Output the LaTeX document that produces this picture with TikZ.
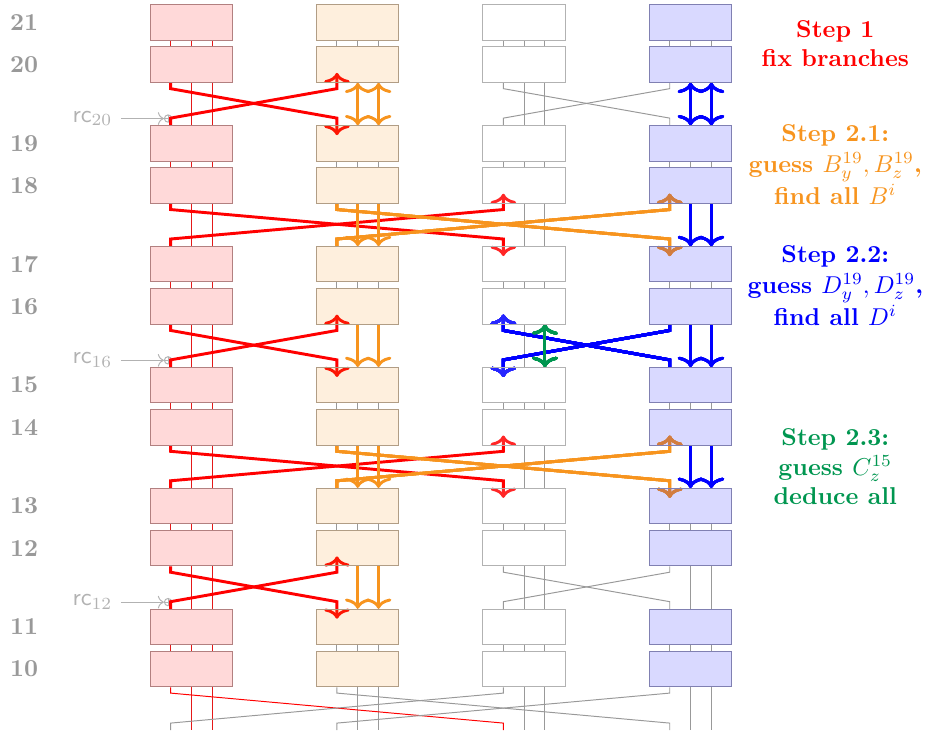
\documentclass[tikz,border=0pt]{standalone}
\usepackage{amsmath, amssymb}
\usepackage{xcolor}
\usepackage{tikz}
\usetikzlibrary{arrows.meta, positioning, calc, backgrounds}

\definecolor{stepor}{RGB}{247,148,30}
\definecolor{stepgr}{RGB}{0,150,80}

\tikzset{
  box/.style={rectangle, draw=#1!25!gray!80, fill=#1, fill opacity=0.15, minimum width=1.188cm, minimum height=0.51cm, inner sep=0pt},
  flow/.style={very thick, ->, >={Computer Modern Rightarrow[width=10.5pt,length=4.2pt]}, #1},
  xor/.style={circle, draw=gray!60, inner sep=0pt, minimum size=3pt,
    path picture={\draw[gray!60] (path picture bounding box.north) -- (path picture bounding box.south)
      (path picture bounding box.west) -- (path picture bounding box.east);}},
}

% left wire of a box, crossing over to another column
\newcommand{\crosswire}[3][gray!80]{\draw[#1] ($(#2)+(-.25,0)$) -- ++(0,-.07) -- ($(#3)+(-.25,.085)$) -- ++(0,-.085);}
\newcommand{\arrdown}[3]{\draw[flow=#1] ($(#2)+(-.25,0)$) -- ++(0,-.07) -- ($(#3)+(-.25,.085)$) -- ++(0,-.205);}
\newcommand{\arrup}[3]{\draw[flow=#1] ($(#2)+(-.25,0)$) -- ++(0,.085) -- ($(#3)+(-.25,-.07)$) -- ++(0,.19);}
\newcommand{\twowires}[4]{\foreach \dx in {0,.25} \draw[flow=#1,#2] ($(#3)+(\dx,0)$) -- ($(#4)+(\dx,0)$);}

\begin{document}
\begin{tikzpicture}[x=1.2cm, y=1.2cm]
  \useasboundingbox (0,0) rectangle (11.154,-8.822);

  % rounds 21 down to 10
  \foreach \r [count=\k from 0] in {21,20,...,10} {
    \pgfmathsetmacro\ry{-(0.27+1.453*floor(\k/2)+0.507*mod(\k,2))}
    \node[gray!80, font=\bfseries] (N\r) at (0.29,\ry) {\r};
    \foreach \c/\x/\col in {A/2.3/red, B/4.3/stepor, C/6.3/white, D/8.3/blue}
      \node[box=\col] (\c\r) at (\x,\ry) {};
  }
  \foreach \c/\x in {A/2.3, B/4.3, C/6.3, D/8.3}
    \coordinate (\c9) at (\x,-8.776);

  \begin{pgfonlayer}{background}
    % thin wires
    \foreach \u/\l in {21/20,19/18,17/16,15/14,13/12,11/10}
      \foreach \c/\wc in {A/red!80!gray, B/gray!80, C/gray!80, D/gray!80}
        \foreach \dx in {-.25,0,.25}
          \draw[color=\wc] ($(\c\u.south)+(\dx,0)$) -- ($(\c\l.north)+(\dx,0)$);
    \foreach \u/\l in {20/19,18/17,16/15,14/13,12/11}
      \foreach \c/\wc in {A/red!80!gray, B/gray!80, C/gray!80, D/gray!80}
        \foreach \dx in {0,.25}
          \draw[color=\wc] ($(\c\u.south)+(\dx,0)$) -- ($(\c\l.north)+(\dx,0)$);
    \foreach \c/\wc in {A/red!80!gray, B/gray!80, C/gray!80, D/gray!80}
      \foreach \dx in {0,.25}
        \draw[color=\wc] ($(\c10.south)+(\dx,0)$) -- ($(\c9)+(\dx,0)$);
    \crosswire{C20.south}{D19.north} \crosswire{D20.south}{C19.north}
    \crosswire{C12.south}{D11.north} \crosswire{D12.south}{C11.north}
    \crosswire[red]{A10.south}{C9} \crosswire{C10.south}{A9}
    \crosswire{B10.south}{D9} \crosswire{D10.south}{B9}

    % round constants
    \foreach \r/\n in {20/19, 16/15, 12/11} {
      \node[xor] (X\r) at ($(A\n.north)+(-.28,.08)$) {};
      \node[gray!60, left=0.62cm of X\r] (R\r) {$\mathsf{rc}_{\r}$};
      \draw[gray!60, ->] (R\r) -- (X\r);
    }

    % Step 1
    \arrdown{red}{A20.south}{B19.north} \arrup{red}{A19.north}{B20.south}
    \arrdown{red}{A18.south}{C17.north} \arrup{red}{A17.north}{C18.south}
    \arrdown{red}{A16.south}{B15.north} \arrup{red}{A15.north}{B16.south}
    \arrdown{red}{A14.south}{C13.north} \arrup{red}{A13.north}{C14.south}
    \arrdown{red}{A12.south}{B11.north} \arrup{red}{A11.north}{B12.south}
    % Step 2.1
    \twowires{stepor}{<->}{B20.south}{B19.north}
    \foreach \u/\l in {18/17,16/15,14/13,12/11}
      \twowires{stepor}{}{B\u.south}{B\l.north}
    \arrdown{stepor}{B18.south}{D17.north} \arrup{stepor}{B17.north}{D18.south}
    \arrdown{stepor}{B14.south}{D13.north} \arrup{stepor}{B13.north}{D14.south}
    % Step 2.2
    \twowires{blue}{<->}{D20.south}{D19.north}
    \foreach \u/\l in {18/17,16/15,14/13}
      \twowires{blue}{}{D\u.south}{D\l.north}
    \arrdown{blue}{D16.south}{C15.north} \arrup{blue}{D15.north}{C16.south}
    % Step 2.3
    \draw[flow=stepgr, <->] ($(C16.south)+(.25,0)$) -- ($(C15.north)+(.25,0)$);
  \end{pgfonlayer}

  \node[font=\bfseries, text=red, align=center] (S1) at (10.04,-0.524) {Step 1\\fix branches};
  \node[font=\bfseries, text=stepor, align=center] (S21) at (10.04,-1.977) {Step 2.1:\\[1pt]guess $B_y^{19}, B_z^{19}$,\\find all $B^i$};
  \node[font=\bfseries, text=blue, align=center] (S22) at (10.04,-3.43) {Step 2.2:\\[1pt]guess $D_y^{19}, D_z^{19}$,\\find all $D^i$};
  \node[font=\bfseries, text=stepgr, align=center] (S23) at (10.04,-5.61) {Step 2.3:\\guess $C_z^{15}$\\deduce all};
\end{tikzpicture}
\end{document}
